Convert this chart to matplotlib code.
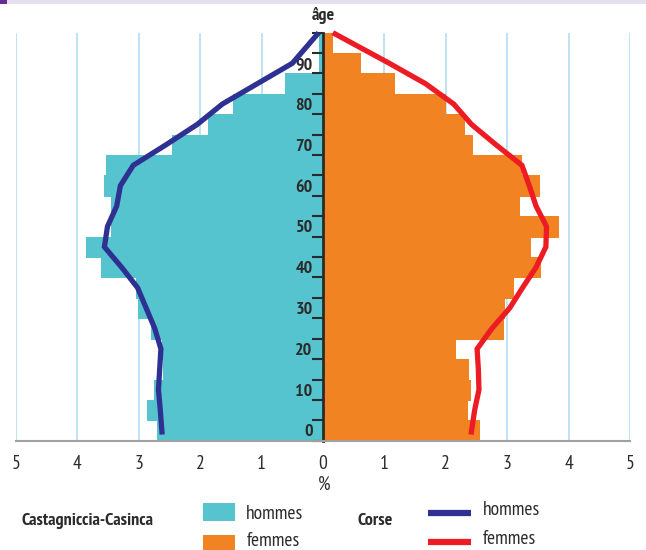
"""Population pyramid: Castagniccia-Casinca (bars) vs Corse (lines), % per 5-year age band."""

import matplotlib
matplotlib.use("Agg")
from matplotlib import pyplot as plt
from matplotlib.patches import Rectangle
from matplotlib.lines import Line2D

# 5-year age bands (lower bound)
BAND_AGES = [0, 5, 10, 15, 20, 25, 30, 35, 40, 45, 50, 55, 60, 65, 70, 75, 80, 85, 90, 95]
MEN_LOCAL = [2.70, 2.86, 2.76, 2.60, 2.62, 2.80, 3.02, 3.05, 3.62, 3.86,
             3.46, 3.45, 3.56, 3.54, 2.46, 1.87, 1.47, 0.62, 0.07, 0.07]
WOMEN_LOCAL = [2.54, 2.35, 2.40, 2.36, 2.15, 2.93, 2.95, 3.09, 3.54, 3.37,
               3.82, 3.20, 3.52, 3.22, 2.42, 2.30, 1.98, 1.16, 0.61, 0.14]

# Corse reference profile
LINE_AGES = [1.5, 7.5, 12.5, 17.5, 22.5, 27.5, 32.5, 37.5, 42.5, 47.5,
             52.5, 57.5, 62.5, 67.5, 72.5, 77.5, 82.5, 87.5, 92.5, 100]
MEN_CORSE = [2.62, 2.65, 2.68, 2.66, 2.64, 2.74, 2.88, 3.02, 3.28, 3.56,
             3.51, 3.36, 3.30, 3.09, 2.56, 2.05, 1.64, 1.07, 0.50, 0.07]
WOMEN_CORSE = [2.41, 2.47, 2.54, 2.53, 2.51, 2.75, 3.04, 3.25, 3.47, 3.63,
               3.64, 3.47, 3.36, 3.24, 2.82, 2.42, 2.13, 1.67, 1.08, 0.16]

X_TICKS = [-5, -4, -3, -2, -1, 0, 1, 2, 3, 4, 5]
AGE_LABELS = ["0", "10", "20", "30", "40", "50", "60", "70", "80", "90"]

CYAN = "#55c4cf"
ORANGE = "#f28322"
BLUE = "#2e3192"
RED = "#ed1c24"
GRID = "#b5dcf2"
DARK = "#2b2b2b"

FONT = ["PT Sans Narrow", "DejaVu Sans"]
plt.rcParams["font.family"] = FONT
FS = 13      # bold labels
FS_REG = 14  # regular labels

W, H = 646, 550
fig = plt.figure(figsize=(W / 100, H / 100), dpi=100)
ax = fig.add_axes([16 / W, 1 - 440.7 / H, 614 / W, 408 / H])

# light vertical gridlines behind everything
for t in X_TICKS:
    if t != 0:
        ax.axvline(t, color=GRID, lw=1.2, zorder=0)

# no antialiasing on the stacked bands, so no seams show between them
ax.barh(BAND_AGES, [-v for v in MEN_LOCAL], height=5, align="edge", color=CYAN,
        edgecolor=CYAN, linewidth=0.6, antialiased=False, zorder=1)
ax.barh(BAND_AGES, WOMEN_LOCAL, height=5, align="edge", color=ORANGE,
        edgecolor=ORANGE, linewidth=0.6, antialiased=False, zorder=1)
ax.plot([-v for v in MEN_CORSE], LINE_AGES, color=BLUE, lw=3.8, zorder=3,
        solid_capstyle="butt", solid_joinstyle="miter", clip_on=False)
ax.plot(WOMEN_CORSE, LINE_AGES, color=RED, lw=3.8, zorder=3,
        solid_capstyle="butt", solid_joinstyle="miter", clip_on=False)

ax.set_xlim(-5, 5)
ax.set_ylim(0, 100)

ax.set_xticks(X_TICKS)
ax.set_xticklabels([str(abs(t)) for t in X_TICKS])
ax.tick_params(axis="x", length=0, pad=10, labelsize=FS_REG, labelcolor=DARK)

# central age axis
for s in ("top", "right"):
    ax.spines[s].set_visible(False)
ax.spines["left"].set_position(("data", 0))
ax.spines["left"].set_color(DARK)
ax.spines["left"].set_linewidth(2)
ax.spines["bottom"].set_color("#a0a0a0")
ax.spines["bottom"].set_linewidth(1.5)
ax.set_yticks(range(0, 101, 5))
ax.set_yticklabels([])
ax.set_yticks([a + 2.5 for a in range(0, 100, 10)], minor=True)
ax.set_yticklabels(AGE_LABELS, minor=True)
ax.tick_params(axis="y", which="major", length=8, width=1.5, color=DARK, direction="out")
ax.tick_params(axis="y", which="minor", length=0, pad=7.5, labelsize=FS, labelcolor=DARK)
for lbl in ax.get_yticklabels(minor=True):
    lbl.set_fontweight("bold")

ax.text(0, 104.3, "âge", ha="center", va="center", fontsize=FS, fontweight="bold", color=DARK)
fig.text(324 / W, 1 - 485 / H, "%", ha="center", va="center", fontsize=FS_REG, color=DARK)

# header strip at the top edge
fig.add_artist(Rectangle((0, 1 - 4 / H), 1, 4 / H, transform=fig.transFigure,
                         color="#e4e0ee", lw=0))
fig.add_artist(Rectangle((0, 1 - 4 / H), 7 / W, 4 / H, transform=fig.transFigure,
                         color="#6a2c91", lw=0))


# legend, laid out in pixel positions of the figure
def fx(px):
    return px / W


def fy(py):
    return 1 - py / H


fig.text(fx(22), fy(521), "Castagniccia-Casinca", ha="left", va="center",
         fontsize=FS, fontweight="bold", color=DARK)
fig.add_artist(Rectangle((fx(203), fy(521)), 32 / W, 18 / H, transform=fig.transFigure,
                         color=CYAN, lw=0))
fig.add_artist(Rectangle((fx(203), fy(553)), 32 / W, 18 / H, transform=fig.transFigure,
                         color=ORANGE, lw=0))
fig.text(fx(246), fy(514), "hommes", ha="left", va="center", fontsize=FS_REG, color=DARK)
fig.text(fx(247), fy(541), "femmes", ha="left", va="center", fontsize=FS_REG, color=DARK)

fig.text(fx(358), fy(521), "Corse", ha="left", va="center",
         fontsize=FS, fontweight="bold", color=DARK)
fig.add_artist(Line2D([fx(428), fx(471)], [fy(513), fy(513)], transform=fig.transFigure,
                      color=BLUE, lw=4.5, solid_capstyle="butt"))
fig.add_artist(Line2D([fx(428), fx(471)], [fy(542), fy(542)], transform=fig.transFigure,
                      color=RED, lw=4.5, solid_capstyle="butt"))
fig.text(fx(483), fy(510), "hommes", ha="left", va="center", fontsize=FS_REG, color=DARK)
fig.text(fx(483), fy(539), "femmes", ha="left", va="center", fontsize=FS_REG, color=DARK)

fig.savefig("out.png", dpi=100)
